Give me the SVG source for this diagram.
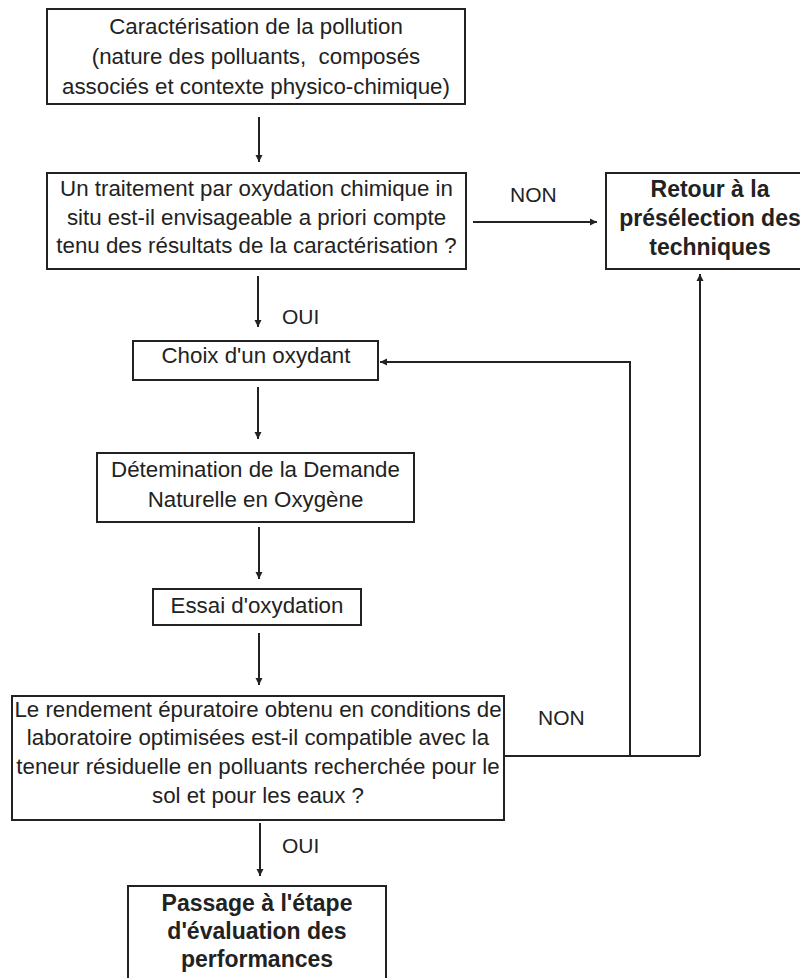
<svg xmlns="http://www.w3.org/2000/svg" width="800" height="978" viewBox="0 0 800 978">
<defs>
<marker id="ah" markerWidth="8" markerHeight="8" refX="7" refY="4" orient="auto" markerUnits="userSpaceOnUse">
<path d="M0,0.5 L7,4 L0,7.5 Z" fill="#222"/>
</marker>
<style>
.box{fill:#fff;stroke:#222;stroke-width:2}
.t{font-family:"Liberation Sans",Arial,sans-serif;font-size:22.3px;fill:#222;text-anchor:middle}
.b{font-weight:bold;font-size:23px}
.lbl{font-family:"Liberation Sans",Arial,sans-serif;font-size:21px;fill:#222}
.c{fill:none;stroke:#222;stroke-width:2}
</style>
</defs>
<rect width="800" height="978" fill="#fff"/>
<g id="connectors">
<line class="c" x1="259" y1="117" x2="259" y2="162" marker-end="url(#ah)"/>
<line class="c" x1="473" y1="222" x2="597" y2="222" marker-end="url(#ah)"/>
<line class="c" x1="258" y1="276" x2="258" y2="327" marker-end="url(#ah)"/>
<line class="c" x1="258" y1="387" x2="258" y2="439" marker-end="url(#ah)"/>
<line class="c" x1="259" y1="527" x2="259" y2="579" marker-end="url(#ah)"/>
<line class="c" x1="259" y1="633" x2="259" y2="685" marker-end="url(#ah)"/>
<line class="c" x1="260" y1="823" x2="260" y2="876" marker-end="url(#ah)"/>
<polyline class="c" points="504,756 700,756"/>
<polyline class="c" points="630,756 630,362 380,362" marker-end="url(#ah)"/>
<polyline class="c" points="700,756 700,274" marker-end="url(#ah)"/>
<text class="lbl" x="510" y="202">NON</text>
<text class="lbl" x="282" y="324">OUI</text>
<text class="lbl" x="538" y="725">NON</text>
<text class="lbl" x="282" y="853">OUI</text>
</g>
<g id="n1">
<rect class="box" x="47" y="9" width="418" height="95"/>
<text class="t" x="256" y="34">Caractérisation de la pollution</text>
<text class="t" x="256" y="64" xml:space="preserve">(nature des polluants,  composés</text>
<text class="t" x="256" y="94">associés et contexte physico-chimique)</text>
</g>
<g id="n2">
<rect class="box" x="47" y="173" width="419" height="96"/>
<text class="t" x="256.5" y="196">Un traitement par oxydation chimique in</text>
<text class="t" x="256.5" y="225">situ est-il envisageable a priori compte</text>
<text class="t" x="256.5" y="253">tenu des résultats de la caractérisation ?</text>
</g>
<g id="n3">
<rect class="box" x="606" y="173" width="220" height="96"/>
<text class="t b" x="710" y="197">Retour à la</text>
<text class="t b" x="710" y="226">présélection des</text>
<text class="t b" x="710" y="255">techniques</text>
</g>
<g id="n4">
<rect class="box" x="133" y="341" width="245" height="39"/>
<text class="t" x="256" y="363">Choix d'un oxydant</text>
</g>
<g id="n5">
<rect class="box" x="97" y="453" width="317" height="69"/>
<text class="t" x="255.5" y="477">Détemination de la Demande</text>
<text class="t" x="255.5" y="507">Naturelle en Oxygène</text>
</g>
<g id="n6">
<rect class="box" x="153" y="589" width="208" height="36"/>
<text class="t" x="257" y="613">Essai d'oxydation</text>
</g>
<g id="n7">
<rect class="box" x="12" y="696" width="492" height="124"/>
<text class="t" x="258" y="717">Le rendement épuratoire obtenu en conditions de</text>
<text class="t" x="258" y="745">laboratoire optimisées est-il compatible avec la</text>
<text class="t" x="258" y="774">teneur résiduelle en polluants recherchée pour le</text>
<text class="t" x="258" y="803">sol et pour les eaux ?</text>
</g>
<g id="n8">
<rect class="box" x="128" y="886" width="258" height="100"/>
<text class="t b" x="257" y="911">Passage à l'étape</text>
<text class="t b" x="257" y="939">d'évaluation des</text>
<text class="t b" x="257" y="967">performances</text>
</g>
</svg>
